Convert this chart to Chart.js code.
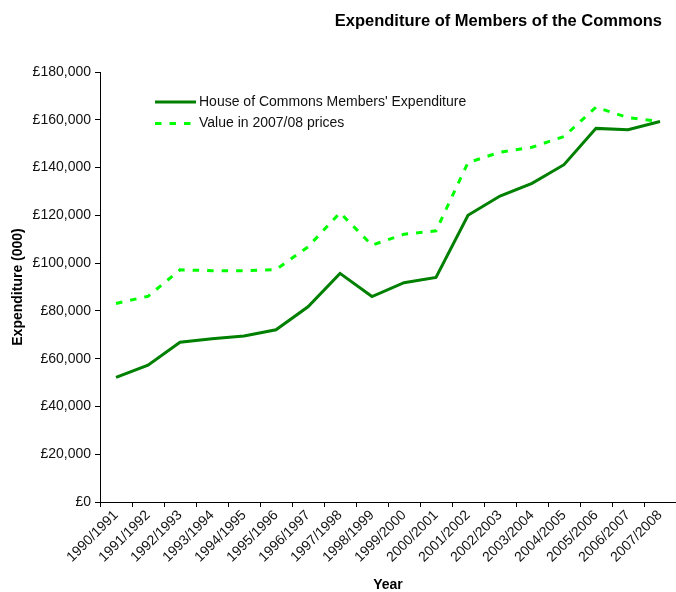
<!DOCTYPE html>
<html>
<head>
<meta charset="utf-8">
<title>Expenditure of Members of the Commons</title>
<script src="https://cdn.jsdelivr.net/npm/chart.js@4.4.1/dist/chart.umd.min.js"></script>
<style>
	html, body { margin: 0; padding: 0; background: #fff; }
	#wrap { width: 676px; height: 592px; position: relative; }
</style>
</head>
<body>
<div id="wrap"><canvas id="chart"></canvas></div>
<script>
( function () {
	'use strict';

	const YEARS = [
		'1990/1991', '1991/1992', '1992/1993', '1993/1994', '1994/1995', '1995/1996',
		'1996/1997', '1997/1998', '1998/1999', '1999/2000', '2000/2001', '2001/2002',
		'2002/2003', '2003/2004', '2004/2005', '2005/2006', '2006/2007', '2007/2008',
	];
	const MEMBERS_EXPENDITURE = [
		52200, 57300, 66900, 68300, 69500, 72100, 81700, 95700, 86000,
		91800, 94000, 120000, 128100, 133400, 141200, 156400, 155800, 159300,
	];
	const VALUE_2007_08_PRICES = [
		83100, 86100, 97200, 96800, 96800, 97300, 106800, 121100, 107500,
		112100, 113500, 142100, 146400, 148500, 153000, 165300, 160900, 159300,
	];
	const SERIES_NAMES = [ 'House of Commons Members\' Expenditure', 'Value in 2007/08 prices' ];
	const TITLE = 'Expenditure of Members of the Commons';

	const FONT = 'Arial, "Liberation Sans", sans-serif';

	// title and legend sit where the original spreadsheet put them
	const headerPlugin = {
		id: 'header',
		afterDraw: function ( chart ) {
			const ctx = chart.ctx;
			const area = chart.chartArea;

			ctx.save();
			ctx.fillStyle = '#000';
			ctx.font = 'bold 16.5px ' + FONT;
			ctx.textAlign = 'right';
			ctx.textBaseline = 'middle';
			ctx.fillText( TITLE, 662, 21 );

			ctx.font = '14px ' + FONT;
			ctx.textAlign = 'left';
			chart.data.datasets.forEach( function ( ds, i ) {
				const y = area.top + 30 + i * 21.5;
				const x = area.left + 55;
				ctx.beginPath();
				ctx.strokeStyle = ds.borderColor;
				ctx.lineWidth = ds.borderWidth;
				ctx.setLineDash( ds.borderDash || [] );
				ctx.moveTo( x, y );
				ctx.lineTo( x + 41, y );
				ctx.stroke();
				ctx.setLineDash( [] );
				ctx.fillStyle = '#111';
				ctx.fillText( ds.label, x + 44, y );
			} );
			ctx.restore();
		},
	};

	new Chart( document.getElementById( 'chart' ).getContext( '2d' ), {
		type: 'line',
		data: {
			labels: YEARS,
			datasets: [
				{
					label: SERIES_NAMES[ 0 ],
					data: MEMBERS_EXPENDITURE,
					borderColor: '#008000',
					borderWidth: 3,
					pointRadius: 0,
					tension: 0,
					fill: false,
				},
				{
					label: SERIES_NAMES[ 1 ],
					data: VALUE_2007_08_PRICES,
					borderColor: '#00ff00',
					borderWidth: 3,
					borderDash: [ 6.5, 8 ],
					pointRadius: 0,
					tension: 0,
					fill: false,
				},
			],
		},
		options: {
			responsive: true,
			maintainAspectRatio: false,
			animation: false,
			layout: {
				padding: { top: 72, right: 0, bottom: 0, left: 0 },
			},
			plugins: {
				legend: { display: false },
				title: { display: false },
				tooltip: { enabled: false },
			},
			scales: {
				x: {
					offset: true,
					grid: {
						offset: true,
						drawOnChartArea: false,
						tickLength: 5,
						color: '#000',
					},
					border: { color: '#000', width: 1 },
					ticks: {
						minRotation: 45,
						maxRotation: 45,
						autoSkip: false,
						color: '#111',
						font: { family: FONT, size: 14 },
						padding: 0,
					},
					title: {
						display: true,
						text: 'Year',
						color: '#000',
						font: { family: FONT, size: 14, weight: 'bold', lineHeight: 1 },
						padding: 0,
					},
					afterFit: function ( scale ) {
						scale.height = 90;
					},
				},
				y: {
					min: 0,
					max: 180000,
					grid: {
						drawOnChartArea: false,
						tickLength: 5,
						color: '#000',
					},
					border: { color: '#000', width: 1 },
					ticks: {
						stepSize: 20000,
						color: '#111',
						font: { family: FONT, size: 14 },
						padding: 4,
						callback: function ( value ) {
							return '£' + Number( value ).toLocaleString( 'en-GB' );
						},
					},
					title: {
						display: true,
						text: 'Expenditure (000)',
						color: '#000',
						font: { family: FONT, size: 14, weight: 'bold' },
						padding: { top: 10, bottom: 0 },
					},
					afterFit: function ( scale ) {
						scale.width = 100;
					},
				},
			},
		},
		plugins: [ headerPlugin ],
	} );
}() );
</script>
</body>
</html>
